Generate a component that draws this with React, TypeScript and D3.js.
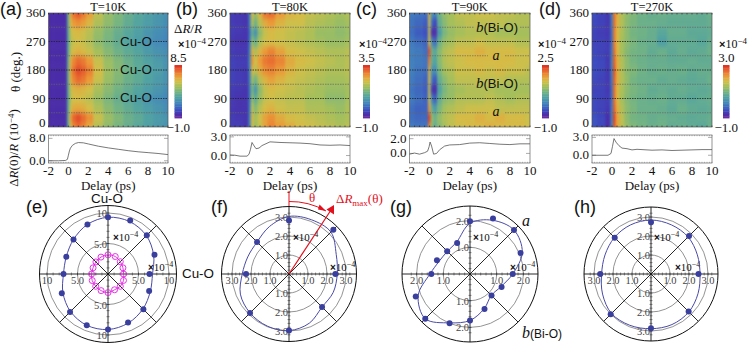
import React from "react";
import * as d3 from "d3";

// ---------- data ----------
const delays = [-2, -1, -0.3, 0, 0.2, 0.5, 1, 1.5, 2, 3, 4, 5, 6, 7, 8, 9, 10];
const thetas = [0, 30, 60, 90, 120, 150, 180, 210, 240, 270, 300, 330, 360];

const heatA = [
  [-.35,-.35,-.35,3.0,5.6,7.0,7.4,7.0,6.2,5.0,4.3,3.8,3.4,3.0,2.7,2.4,2.2],
  [-.35,-.35,-.35,3.4,6.4,7.6,8.0,7.5,6.8,5.4,4.5,4.0,3.5,3.2,2.8,2.5,2.3],
  [-.35,-.35,-.35,3.1,5.4,6.2,6.3,6.1,5.7,4.9,4.2,3.7,3.3,2.9,2.6,2.3,2.0],
  [-.35,-.35,-.35,3.0,5.0,5.6,5.7,5.5,5.2,4.5,3.9,3.4,3.0,2.7,2.3,2.0,1.8],
  [-.35,-.35,-.35,3.1,5.2,5.9,6.0,5.9,5.6,4.8,4.2,3.7,3.3,2.9,2.6,2.3,2.0],
  [-.35,-.35,-.35,3.3,6.0,7.0,7.5,7.2,6.6,5.4,4.5,4.0,3.5,3.2,2.8,2.5,2.2],
  [-.35,-.35,-.35,3.4,6.3,7.4,8.0,7.7,7.1,5.7,4.6,4.1,3.6,3.2,2.9,2.6,2.2],
  [-.35,-.35,-.35,3.3,6.0,7.0,7.5,7.2,6.6,5.4,4.5,4.0,3.5,3.1,2.8,2.5,2.2],
  [-.35,-.35,-.35,3.0,5.1,5.8,6.0,5.8,5.4,4.7,4.1,3.6,3.2,2.9,2.5,2.2,2.0],
  [-.35,-.35,-.35,2.9,4.9,5.4,5.6,5.4,5.0,4.3,3.8,3.3,2.9,2.6,2.2,1.9,1.7],
  [-.35,-.35,-.35,3.0,5.1,5.7,5.8,5.5,5.1,4.4,3.9,3.4,3.0,2.7,2.3,2.0,1.8],
  [-.35,-.35,-.35,3.3,5.8,6.6,6.8,6.5,5.9,4.9,4.3,3.8,3.3,2.9,2.6,2.3,2.0],
  [-.35,-.35,-.35,3.4,6.3,7.4,7.8,7.2,6.5,5.2,4.4,3.9,3.4,3.0,2.7,2.4,2.1],
];
const heatB = [
  [-.5,-.5,-.6,.4,2.2,1.6,2.0,2.5,2.8,2.6,2.4,2.2,2.1,2.0,1.9,1.8,1.9],
  [-.5,-.55,-.6,.4,2.3,1.7,2.1,2.5,2.7,2.4,2.2,2.1,2.0,1.9,1.8,1.7,1.8],
  [-.55,-.6,-.6,.3,2.0,1.4,1.9,2.2,2.3,2.1,2.0,2.0,1.8,1.8,1.7,1.6,1.8],
  [-.55,-.6,-.6,.2,1.6,1.0,1.6,2.0,2.1,2.0,1.9,1.9,1.7,1.7,1.5,1.5,1.7],
  [-.5,-.55,-.6,.2,1.3,.6,1.5,2.0,2.2,2.1,2.0,1.9,1.8,1.7,1.6,1.6,1.7],
  [-.45,-.5,-.55,.3,1.7,1.2,1.9,2.3,2.5,2.3,2.1,2.0,1.9,1.8,1.7,1.7,1.8],
  [-.45,-.5,-.55,.4,2.3,1.9,2.4,2.7,2.8,2.6,2.3,2.1,2.0,1.9,1.8,1.8,1.9],
  [-.45,-.5,-.5,.5,2.7,2.1,2.6,2.9,3.0,2.8,2.4,2.2,2.1,2.0,1.9,1.8,1.9],
  [-.5,-.55,-.55,.4,2.4,1.8,2.3,2.6,2.8,2.5,2.2,2.1,2.0,1.9,1.8,1.8,1.9],
  [-.55,-.6,-.6,.2,1.6,1.1,1.8,2.1,2.2,2.1,2.0,1.9,1.8,1.7,1.6,1.6,1.7],
  [-.5,-.55,-.6,.1,1.1,.5,1.5,2.0,2.2,2.1,2.0,1.9,1.8,1.6,1.6,1.5,1.6],
  [-.5,-.55,-.6,.3,1.9,1.2,1.9,2.4,2.6,2.3,2.1,2.1,1.9,1.8,1.7,1.6,1.7],
  [-.5,-.55,-.6,.4,2.3,1.6,2.3,2.9,3.0,2.6,2.3,2.2,2.0,1.9,1.8,1.7,1.8],
];
const heatC = [
  [-.1,-.15,-.15,1.9,.9,.6,.9,1.1,1.3,1.4,1.5,1.5,1.6,1.5,1.5,1.5,1.4],
  [-.2,-.25,-.25,2.4,1.0,.7,1.0,1.2,1.3,1.5,1.5,1.6,1.5,1.6,1.5,1.5,1.4],
  [-.2,-.3,-.3,1.8,.6,.3,.8,1.1,1.2,1.3,1.4,1.4,1.4,1.3,1.3,1.3,1.3],
  [-.1,-.2,-.3,1.4,.0,-.3,.6,.9,1.0,1.2,1.2,1.2,1.3,1.2,1.1,1.2,1.2],
  [-.15,-.25,-.35,1.3,-.6,-.75,.4,.8,1.0,1.1,1.2,1.2,1.2,1.1,1.1,1.1,1.1],
  [-.1,-.2,-.3,1.5,-.1,-.4,.6,.9,1.1,1.3,1.3,1.3,1.3,1.3,1.2,1.2,1.2],
  [-.05,-.15,-.2,1.6,.2,.1,.8,1.1,1.2,1.4,1.4,1.5,1.4,1.5,1.4,1.4,1.3],
  [-.05,-.1,-.15,2.0,.6,.4,.9,1.2,1.3,1.4,1.5,1.5,1.5,1.5,1.5,1.4,1.4],
  [-.05,-.1,-.2,2.3,.7,.5,.9,1.2,1.3,1.5,1.5,1.6,1.5,1.5,1.5,1.4,1.4],
  [-.1,-.2,-.3,1.5,.1,-.2,.7,1.0,1.1,1.3,1.3,1.4,1.3,1.3,1.3,1.2,1.2],
  [-.2,-.35,-.45,1.3,-.7,-.8,.3,.8,1.0,1.1,1.2,1.2,1.2,1.1,1.1,1.1,1.1],
  [-.15,-.25,-.35,1.4,-.2,-.5,.6,.9,1.1,1.2,1.3,1.3,1.3,1.3,1.2,1.2,1.2],
  [-.1,-.15,-.2,1.6,.2,.0,.7,1.0,1.1,1.3,1.3,1.4,1.4,1.3,1.3,1.2,1.2],
];
const heatD = [
  [-.35,-.45,-.75,.3,2.8,2.1,1.6,1.3,1.1,1.0,.9,.95,.8,.85,.8,.7,.9],
  [-.35,-.45,-.7,.2,2.9,2.1,1.6,1.2,1.0,.95,.85,.9,.85,.8,.75,.8,.85],
  [-.45,-.5,-.6,.1,2.7,2.0,1.5,1.2,1.05,.9,.9,.85,.75,.9,.8,.75,.8],
  [-.45,-.5,-.55,.0,2.6,1.9,1.4,1.15,1.0,.9,.85,.9,.8,.8,.7,.8,.85],
  [-.5,-.5,-.6,.0,2.6,1.9,1.45,1.2,1.05,.95,.8,.85,.8,.85,.8,.75,.8],
  [-.45,-.5,-.6,.1,2.7,2.0,1.5,1.25,1.0,.9,.9,.8,.85,.8,.75,.8,.9],
  [-.4,-.45,-.6,.2,2.8,2.0,1.5,1.2,1.1,.95,.85,.9,.85,.9,.8,.85,.85],
  [-.4,-.45,-.6,.2,2.7,2.0,1.5,1.2,1.0,.9,.85,.85,.8,.8,.85,.8,.8],
  [-.45,-.5,-.55,.1,2.6,1.9,1.4,1.15,1.0,.95,.8,.9,.75,.85,.75,.8,.9],
  [-.5,-.5,-.55,.0,2.5,1.9,1.4,1.2,1.05,.9,.85,.55,.8,.8,.8,.7,.85],
  [-.5,-.55,-.6,.0,2.5,1.9,1.45,1.2,1.0,.95,.85,.7,.85,.85,.75,.75,.8],
  [-.45,-.5,-.6,.1,2.6,1.95,1.5,1.2,1.05,.9,.9,.85,.8,.8,.8,.8,.85],
  [-.4,-.5,-.6,.2,2.6,2.0,1.5,1.25,1.1,.95,.85,.9,.85,.85,.85,.8,.9],
];

const traceAx = [-2,-1,-.3,-.1,0,.1,.2,.4,.7,1,1.5,2,3,4,5,6,7,8,9,10];
const traceAy = [0,0,.1,.5,2.0,3.5,4.5,5.5,6.2,6.5,6.4,6.0,5.2,4.6,4.1,3.6,3.2,2.9,2.6,2.2];
const traceBx = [-2,-1.5,-1,-.3,-.1,.05,.2,.35,.6,.9,1.2,1.6,2,3,4,5,6,7,8,9,10];
const traceBy = [.1,.05,-.1,-.1,.2,1.0,2.1,1.7,1.1,1.2,1.6,1.9,2.2,2.1,2.05,2.0,1.9,1.7,1.65,1.7,1.6];
const traceCx = [-2,-1.5,-1,-.5,-.2,-.05,.05,.2,.4,.7,1,1.5,2,3,4,5,6,7,8,9,10];
const traceCy = [-.1,.05,-.1,.1,.3,.9,1.55,1.0,-.1,.0,.5,1.0,1.15,1.2,1.4,1.45,1.35,1.25,1.2,1.3,1.3];
const traceDx = [-2,-1,-.4,-.1,.05,.2,.4,.7,1,1.5,2,2.5,3,4,5,6,7,8,9,10];
const traceDy = [0,0,0,.3,1.5,2.8,2.2,1.6,1.2,1.1,.9,1.0,.95,.85,.9,.8,.85,.9,.95,.95];

const angles16 = [0,22.5,45,67.5,90,112.5,135,157.5,180,202.5,225,247.5,270,292.5,315,337.5];
const angles8 = [0,45,90,135,180,225,270,315];

const pointsE = [9.3,9.5,9.0,8.25,6.8,7.3,8.2,8.6,9.1,9.1,8.8,8.2,7.3,7.4,8.0,8.8];
const curveE = [9.3,9.3,8.9,8.1,7.3,7.5,8.1,8.7,9.1,9.1,8.7,8.0,7.3,7.4,8.0,8.8];
const openE = [3.15,3.1,2.85,2.65,2.55,2.75,2.85,2.8,3.05,2.95,2.85,2.8,2.7,2.65,2.8,3.0];
const pointsF = [2.82,3.3,2.44,2.46,2.98,2.9,2.26,2.38];
const curveF = [3.03,3.09,3.12,2.69,2.54,2.52,2.46,2.8,2.98,2.97,2.9,2.77,2.46,2.35,2.38,2.7];
const pointsG = [1.98,2.25,2.33,2.05,1.6,1.28,1.14,1.42,1.74,2.0,2.37,2.2,1.45,1.34,1.21,1.26];
const curveG = [1.9,2.18,2.33,2.12,1.6,1.25,1.13,1.4,1.74,1.98,2.37,2.1,1.5,1.25,1.2,1.3];
const pointsH = [2.72,2.83,2.5,2.8,2.86,3.0,2.67,2.7];
const curveH = [2.84,2.8,2.76,2.64,2.58,2.68,2.82,2.88,2.88,2.92,2.94,2.76,2.6,2.62,2.72,2.8];

const cmapStops = [0,.07,.15,.28,.4,.5,.6,.7,.8,.9,1];
const cmapColors = ["#762aa0","#4a2ca8","#3c4cc0","#4284bc","#50a2a2","#74b482","#a4bf5c","#d3bf48","#eb9a38","#e8682f","#dd2c24"];
const cmap = d3.scaleLinear<string>().domain(cmapStops).range(cmapColors);

const serif = "'Liberation Serif', serif";
const sans = "'Liberation Sans', sans-serif";
const gridThetas = [45, 90, 135, 180, 225, 270, 315];
const thetaTicks = [0, 90, 180, 270, 360];
const delayTicks = [-2, 0, 2, 4, 6, 8, 10];

type HeatCfg = {
  left: number; right: number; mat: number[][]; vmax: number; title: string; vmaxLabel: string;
  barX: number; barW: number; tx: number[]; ty: number[]; yDomain: number[]; yTicks: [number, string][];
  expX: number; expY: number; gaps: Record<number, number[]>;
};

const top = 13, bottom = 127, lineTop = 135, lineBottom = 163;

const panels: HeatCfg[] = [
  { left: 48.5, right: 168, mat: heatA, vmax: 8.5, title: "T=10K", vmaxLabel: "8.5", barX: 174.5, barW: 7.5, tx: traceAx, ty: traceAy,
    yDomain: [-0.8, 9.2], yTicks: [[0,"0.0"],[8,"8.0"]], expX: 178, expY: 48, gaps: { 90: [118, 153], 180: [118, 153], 270: [118, 153] } },
  { left: 230, right: 350, mat: heatB, vmax: 3.5, title: "T=80K", vmaxLabel: "3.5", barX: 363, barW: 7, tx: traceBx, ty: traceBy,
    yDomain: [-1.2, 3.3], yTicks: [[0,"0.0"],[3,"3.0"]], expX: 359, expY: 48, gaps: {} },
  { left: 409.5, right: 530, mat: heatC, vmax: 2.5, title: "T=90K", vmaxLabel: "2.5", barX: 542, barW: 7, tx: traceCx, ty: traceCy,
    yDomain: [-1.3, 2.5], yTicks: [[0,"0.0"],[2,"2.0"]], expX: 538, expY: 48,
    gaps: { 45: [488, 505], 135: [474, 520], 225: [488, 505], 315: [474, 520] } },
  { left: 592, right: 712, mat: heatD, vmax: 3.0, title: "T=270K", vmaxLabel: "3.0", barX: 723, barW: 6.5, tx: traceDx, ty: traceDy,
    yDomain: [-1.3, 3.4], yTicks: [[0,"0.0"],[3,"3.0"]], expX: 719, expY: 48, gaps: {} },
];

const xTicksMinor = d3.range(-2, 10.01, 0.5);

function Exp({ x, y, size = 11 }: { x: number; y: number; size?: number }) {
  return (
    <text x={x} y={y} fontFamily={serif} fontSize={size} fill="#111">
      <tspan fontFamily={sans} fontWeight="bold" fontSize={size - 1}>×</tspan>10
      <tspan dy={-4} fontSize={size - 3}>−4</tspan>
    </text>
  );
}

function HeatPanel({ cfg, idx }: { cfg: HeatCfg; idx: number }) {
  const x = d3.scaleLinear().domain([-2, 10]).range([cfg.left, cfg.right]);
  const y = d3.scaleLinear().domain([0, 360]).range([bottom, top]);
  const color = d3.scaleLinear().domain([-1, cfg.vmax]).range([0, 1]).clamp(true);
  const xEdges = delays.map((d, i) => {
    const lo = i === 0 ? x(d) - 10 : (x(delays[i - 1]) + x(d)) / 2;
    const hi = i === delays.length - 1 ? x(d) + 10 : (x(delays[i + 1]) + x(d)) / 2;
    return [lo, hi];
  });
  const yEdges = thetas.map((t, i) => {
    const lo = i === 0 ? y(t) + 10 : (y(thetas[i - 1]) + y(t)) / 2;
    const hi = i === thetas.length - 1 ? y(t) - 10 : (y(thetas[i + 1]) + y(t)) / 2;
    return [hi, lo];
  });
  const ly = d3.scaleLinear().domain(cfg.yDomain).range([lineBottom, lineTop]);
  const line = d3.line<number>().x((d) => x(d)).y((_, i) => ly(cfg.ty[i]));
  const barY = d3.scaleLinear().domain([0, 32]).range([118, 65]);
  const mid = (cfg.left + cfg.right) / 2;
  const labelX = cfg.left - 3;
  return (
    <g>
      <clipPath id={`clip${idx}`}>
        <rect x={cfg.left} y={top} width={cfg.right - cfg.left} height={bottom - top} />
      </clipPath>
      <g clipPath={`url(#clip${idx})`}>
        <g filter="url(#heatblur)">
          {cfg.mat.map((row, r) =>
            row.map((v, c) => (
              <rect key={`${r}-${c}`} x={xEdges[c][0]} y={yEdges[r][0]} width={xEdges[c][1] - xEdges[c][0] + 0.5}
                height={yEdges[r][1] - yEdges[r][0] + 0.5} fill={cmap(color(v))} />
            ))
          )}
        </g>
      </g>
      {gridThetas.map((t) => {
        const gap = cfg.gaps[t];
        const dark = t % 90 === 0;
        const segs = gap ? [[cfg.left, gap[0]], [gap[1], cfg.right]] : [[cfg.left, cfg.right]];
        return segs.map((s, i) => (
          <line key={`${t}-${i}`} x1={s[0]} x2={s[1]} y1={y(t)} y2={y(t)} stroke={dark ? "#222" : "#666"}
            strokeWidth={dark ? 0.8 : 0.7} strokeDasharray="1.5 1" />
        ));
      })}
      <rect x={cfg.left} y={top} width={cfg.right - cfg.left} height={bottom - top} fill="none" stroke="#555" strokeWidth={0.7} />
      {xTicksMinor.map((t) => (
        <g key={t} stroke="#222" strokeWidth={0.6}>
          <line x1={x(t)} x2={x(t)} y1={bottom} y2={bottom - 1.5} />
          <line x1={x(t)} x2={x(t)} y1={top} y2={top + 1.5} />
        </g>
      ))}
      {thetaTicks.map((t) => (
        <text key={t} x={labelX} y={t === 0 ? y(t) : y(t) + 4} textAnchor="end" fontFamily={serif} fontSize={13} fill="#111">{t}</text>
      ))}
      <text x={mid} y={10.5} textAnchor="middle" fontFamily={serif} fontSize={12.5} fill="#111">{cfg.title}</text>

      {/* trace */}
      <rect x={cfg.left} y={lineTop} width={cfg.right - cfg.left} height={lineBottom - lineTop} fill="#fff" stroke="#666" strokeWidth={0.7} />
      {d3.range(-2, 10.01, 0.25).map((t) => (
        <g key={t} stroke="#777" strokeWidth={0.5}>
          <line x1={x(t)} x2={x(t)} y1={lineTop} y2={lineTop + 1.2} />
          <line x1={x(t)} x2={x(t)} y1={lineBottom} y2={lineBottom - 1.2} />
        </g>
      ))}
      {cfg.yTicks.map(([v, s]) => (
        <g key={s}>
          <line x1={cfg.left} x2={cfg.left + 4} y1={ly(v)} y2={ly(v)} stroke="#777" strokeWidth={0.6} />
          <line x1={cfg.right - 4} x2={cfg.right} y1={ly(v)} y2={ly(v)} stroke="#777" strokeWidth={0.6} />
          <text x={labelX} y={ly(v) + 4} textAnchor="end" fontFamily={serif} fontSize={13} fill="#111">{s}</text>
        </g>
      ))}
      <path d={line(cfg.tx) ?? ""} fill="none" stroke="#555" strokeWidth={0.8} />
      {delayTicks.map((t) => (
        <text key={t} x={x(t)} y={175} textAnchor="middle" fontFamily={serif} fontSize={13} fill="#111">{t}</text>
      ))}
      <text x={mid} y={190} textAnchor="middle" fontFamily={serif} fontSize={13} fill="#111">Delay (ps)</text>

      {/* colour bar */}
      {d3.range(32).map((i) => (
        <rect key={i} x={cfg.barX} y={barY(i + 1)} width={cfg.barW} height={barY(i) - barY(i + 1) + 0.4} fill={cmap((i + 0.5) / 32)} />
      ))}
      <Exp x={cfg.expX} y={cfg.expY} size={12} />
      <text x={cfg.barX + cfg.barW / 2} y={62} textAnchor="middle" fontFamily={serif} fontSize={13} fill="#111">{cfg.vmaxLabel}</text>
      <text x={cfg.barX + cfg.barW / 2} y={132} textAnchor="middle" fontFamily={serif} fontSize={13} fill="#111">−1.0</text>
    </g>
  );
}

type PolarCfg = {
  cx: number; cy: number; R: number; unit: number; rings: number[]; labels: [number, string][];
  angles: number[]; points: number[]; curve: number[]; tick: number; expTop: number; expRight: number; maxTick: number;
};

const polars: PolarCfg[] = [
  { cx: 108, cy: 274, R: 68.5, unit: 6.1, rings: [5, 10], labels: [[5,"5.0"],[10,"10"]], angles: angles16, points: pointsE, curve: curveE, tick: 1, expTop: 5, expRight: 40, maxTick: 11 },
  { cx: 289, cy: 274, R: 67.5, unit: 19, rings: [1, 2, 3], labels: [[1,"1.0"],[2,"2.0"],[3,"3.0"]], angles: angles8, points: pointsF, curve: curveF, tick: 0.2, expTop: 4, expRight: 41, maxTick: 3.4 },
  { cx: 470, cy: 274, R: 68, unit: 26.7, rings: [1, 2], labels: [[1,"1.0"],[2,"2.0"]], angles: angles16, points: pointsG, curve: curveG, tick: 0.2, expTop: 3, expRight: 40, maxTick: 2.4 },
  { cx: 651, cy: 274, R: 67, unit: 19, rings: [1, 2, 3], labels: [[1,"1.0"],[2,"2.0"],[3,"3.0"]], angles: angles8, points: pointsH, curve: curveH, tick: 0.2, expTop: 3, expRight: 24, maxTick: 3.4 },
];

function Polar({ cfg, open }: { cfg: PolarCfg; open?: number[] }) {
  const r = d3.scaleLinear().domain([0, 1]).range([0, cfg.unit]);
  const rad = (a: number) => (a * Math.PI) / 180;
  const closed = d3.lineRadial<number>().angle((_, i) => rad(angles16[i])).radius((d) => r(d)).curve(d3.curveCatmullRomClosed);
  const ticks = d3.range(cfg.tick, cfg.maxTick, cfg.tick);
  const dirs = [0, 45, 90, 135, 180, 225, 270, 315];
  const lab = { fontFamily: serif, fontSize: 10.5, fill: "#444" };
  return (
    <g transform={`translate(${cfg.cx},${cfg.cy})`}>
      {cfg.rings.map((v) => <circle key={v} r={r(v)} fill="none" stroke="#777" strokeWidth={0.8} />)}
      <circle r={cfg.R} fill="none" stroke="#111" strokeWidth={1} />
      {dirs.map((a) => {
        const [px, py] = d3.pointRadial(rad(a), cfg.R);
        return <line key={a} x1={0} y1={0} x2={px} y2={py} stroke="#111" strokeWidth={0.9} />;
      })}
      {ticks.map((t) => (
        <g key={t} stroke="#222" strokeWidth={0.5}>
          <line x1={r(t)} x2={r(t)} y1={-1.5} y2={1.5} />
          <line x1={-r(t)} x2={-r(t)} y1={-1.5} y2={1.5} />
          <line y1={r(t)} y2={r(t)} x1={-1.5} x2={1.5} />
          <line y1={-r(t)} y2={-r(t)} x1={-1.5} x2={1.5} />
        </g>
      ))}
      {cfg.labels.map(([v, s]) => (
        <g key={s} {...lab}>
          <text x={r(v)} y={10} textAnchor="middle">{s}</text>
          <text x={-r(v)} y={10} textAnchor="middle">{s}</text>
          <text x={-1} y={-r(v) + 4} textAnchor="end">{s}</text>
          <text x={-1} y={r(v) + 4} textAnchor="end">{s}</text>
        </g>
      ))}
      <Exp x={cfg.expTop} y={-33} size={11} />
      <Exp x={cfg.expRight} y={-3} size={11} />
      <path d={closed(cfg.curve) ?? ""} fill="none" stroke="#4a4aa8" strokeWidth={1} />
      {cfg.points.map((v, i) => {
        const [px, py] = d3.pointRadial(rad(cfg.angles[i]), r(v));
        return <circle key={i} cx={px} cy={py} r={3} fill="#3a3f9e" />;
      })}
      {open && (
        <>
          <path d={closed(open) ?? ""} fill="none" stroke="#e020e0" strokeWidth={0.9} />
          {open.map((v, i) => {
            const [px, py] = d3.pointRadial(rad(angles16[i]), r(v));
            return <circle key={i} cx={px} cy={py} r={3} fill="none" stroke="#e020e0" strokeWidth={0.9} />;
          })}
        </>
      )}
    </g>
  );
}

function PanelLetter({ x, y, s }: { x: number; y: number; s: string }) {
  return <text x={x} y={y} fontFamily={sans} fontSize={18} fill="#111">{s}</text>;
}

function HeatNote({ x, y, s }: { x: number; y: number; s: string }) {
  return <text x={x} y={y} textAnchor="middle" fontFamily={sans} fontSize={13.4} fill="#111">{s}</text>;
}

function BiO({ x, y, size = 15, inner = 13 }: { x: number; y: number; size?: number; inner?: number }) {
  return (
    <text x={x} y={y} textAnchor="middle" fill="#111">
      <tspan fontFamily={serif} fontStyle="italic" fontSize={size}>b</tspan>
      <tspan fontFamily={sans} fontSize={inner}>(Bi-O)</tspan>
    </text>
  );
}

export default function App() {
  return (
    <svg width={747} height={343} viewBox="0 0 747 343" style={{ position: "absolute", left: 0, top: 0, display: "block", background: "#fff" }}>
      <defs>
        <filter id="heatblur" x="-10%" y="-10%" width="120%" height="120%" colorInterpolationFilters="sRGB">
          <feGaussianBlur stdDeviation="0.9 2.8" />
        </filter>
      </defs>
      {panels.map((p, i) => <HeatPanel key={i} cfg={p} idx={i} />)}

      <PanelLetter x={0} y={15} s="(a)" />
      <PanelLetter x={176} y={15} s="(b)" />
      <PanelLetter x={356} y={15} s="(c)" />
      <PanelLetter x={539} y={15} s="(d)" />
      <PanelLetter x={26} y={213} s="(e)" />
      <PanelLetter x={211} y={213} s="(f)" />
      <PanelLetter x={390} y={213} s="(g)" />
      <PanelLetter x={574} y={213} s="(h)" />

      <text transform="translate(20,72) rotate(-90)" textAnchor="middle" fontFamily={serif} fontSize={13} fill="#111">θ (deg.)</text>
      <text transform="translate(18,148) rotate(-90)" textAnchor="middle" fontFamily={serif} fontSize={13} fill="#111">
        Δ<tspan fontStyle="italic">R</tspan>(0)/<tspan fontStyle="italic">R</tspan> (10<tspan dy={-4} fontSize={9}>−4</tspan><tspan dy={4}>)</tspan>
      </text>
      <text x={174} y={33} fontFamily={serif} fontSize={13} fill="#111">Δ<tspan fontStyle="italic">R</tspan>/<tspan fontStyle="italic">R</tspan></text>

      <HeatNote x={136} y={46} s="Cu-O" />
      <HeatNote x={136} y={74} s="Cu-O" />
      <HeatNote x={136} y={102} s="Cu-O" />
      <BiO x={497} y={32} />
      <BiO x={497} y={88} />
      <text x={496} y={60} textAnchor="middle" fontFamily={serif} fontStyle="italic" fontSize={14} fill="#111">a</text>
      <text x={496} y={116} textAnchor="middle" fontFamily={serif} fontStyle="italic" fontSize={14} fill="#111">a</text>

      <Polar cfg={polars[0]} open={openE} />
      <Polar cfg={polars[1]} />
      <Polar cfg={polars[2]} />
      <Polar cfg={polars[3]} />

      <text x={107} y={203} textAnchor="middle" fontFamily={sans} fontSize={13.4} fill="#111">Cu-O</text>
      <text x={182} y={278} fontFamily={sans} fontSize={13.4} fill="#111">Cu-O</text>
      <text x={522} y={226} fontFamily={serif} fontStyle="italic" fontSize={16} fill="#111">a</text>
      <text x={522} y={338} fill="#111">
        <tspan fontFamily={serif} fontStyle="italic" fontSize={16}>b</tspan>
        <tspan fontFamily={sans} fontSize={12}>(Bi-O)</tspan>
      </text>

      {/* red annotation */}
      <line x1={289} x2={289} y1={191} y2={206} stroke="#e2101c" strokeWidth={1} />
      <path d="M289,201.5 A72.5,72.5 0 0 1 326,211" fill="none" stroke="#e2101c" strokeWidth={1} />
      <path d="M326,211 L319.5,204.5 L318,209.5 Z" fill="#e2101c" />
      <line x1={289} y1={274} x2={331} y2={210} stroke="#e2101c" strokeWidth={1.2} />
      <path d="M334,205 L334,214.5 L326.5,209.5 Z" fill="#e2101c" />
      <text x={312} y={202} textAnchor="middle" fontFamily={serif} fontSize={13} fill="#e2101c">θ</text>
      <text x={336} y={203} fontFamily={serif} fontSize={13} fill="#e2101c">
        Δ<tspan fontStyle="italic">R</tspan><tspan fontSize={9} dy={3}>max</tspan><tspan dy={-3}>(θ)</tspan>
      </text>
    </svg>
  );
}
